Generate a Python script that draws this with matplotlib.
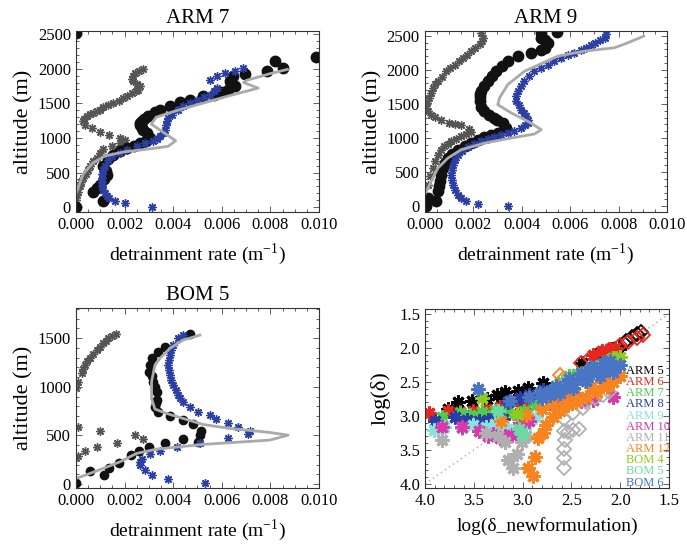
import numpy as np
import matplotlib
matplotlib.use("Agg")
import matplotlib.pyplot as plt
from matplotlib.ticker import MultipleLocator

plt.rcParams['font.family'] = ['Liberation Serif', 'DejaVu Serif']
plt.rcParams['mathtext.fontset'] = 'custom'
plt.rcParams['mathtext.rm'] = 'Liberation Serif'

# ---------------- ARM 7 ----------------
arm7_mod_x = [0.0000, 0.0003, 0.0007, 0.0012, 0.0020, 0.0030, 0.0038, 0.0041, 0.0036, 0.0031,
              0.0033, 0.0040, 0.0050, 0.0062, 0.0075, 0.0069, 0.0070, 0.0080, 0.0087]
arm7_mod_z = [200, 480, 640, 740, 800, 840, 880, 960, 1080, 1200,
              1300, 1380, 1480, 1600, 1720, 1800, 1830, 1930, 1990]
arm7_les_x = [0.0000, 0.0000, 0.00112, 0.00071, 0.00085, 0.00099, 0.00115, 0.00126, 0.00122, 0.00112,
              0.00130, 0.00154, 0.00180, 0.00209, 0.00240, 0.00263, 0.00290, 0.00305, 0.00291, 0.00275,
              0.00270, 0.00263, 0.00265, 0.00270, 0.00280, 0.00298, 0.00325, 0.00346, 0.00387, 0.00428,
              0.00469, 0.00524, 0.00566, 0.00600, 0.00627, 0.00654, 0.00640, 0.00634, 0.00648, 0.00695,
              0.00785, 0.00819, 0.00853, 0.00988]
arm7_les_z = [0, 2510, 82, 226, 280, 323, 400, 467, 520, 600,
              700, 756, 810, 853, 890, 925, 960, 997, 1069, 1110,
              1142, 1180, 1214, 1250, 1276, 1324, 1370, 1407, 1455, 1517,
              1551, 1599, 1623, 1660, 1696, 1744, 1780, 1816, 1888, 1927,
              1960, 2105, 2009, 2163]
arm7_new_x = [0.00311, 0.00202, 0.00160, 0.00135, 0.00126, 0.00118, 0.00112, 0.00108, 0.00106, 0.00106,
              0.00108, 0.00112, 0.00120, 0.00133, 0.00150, 0.00181, 0.00210, 0.00250, 0.00285, 0.00318,
              0.00335, 0.00346, 0.00358, 0.00366, 0.00370, 0.00373, 0.00380, 0.00394, 0.00420, 0.00442,
              0.00470, 0.00497, 0.00525, 0.00551, 0.00570, 0.00579, 0.00551, 0.00579, 0.00613, 0.00654,
              0.00689]
arm7_new_z = [0, 58, 96, 130, 154, 200, 250, 300, 360, 419,
              480, 530, 600, 684, 740, 780, 830, 877, 920, 958,
              990, 1021, 1070, 1118, 1180, 1238, 1290, 1334, 1400, 1455,
              1505, 1551, 1590, 1623, 1680, 1720, 1840, 1888, 1936, 1960,
              2009]
arm7_old_x = [0.00000, 0.00005, 0.00010, 0.00016, 0.00022, 0.00030, 0.00040, 0.00050, 0.00058, 0.00070,
              0.00085, 0.00100, 0.00112, 0.00147, 0.00181, 0.00200, 0.00137, 0.00181, 0.00099, 0.00064,
              0.00037, 0.00030, 0.00035, 0.00045, 0.00058, 0.00070, 0.00085, 0.00100, 0.00112, 0.00130,
              0.00154, 0.00175, 0.00195, 0.00212, 0.00229, 0.00245, 0.00257, 0.00263, 0.00250, 0.00236,
              0.00229, 0.00235, 0.00243, 0.00260, 0.00277]
arm7_old_z = [100, 170, 226, 300, 360, 419, 480, 540, 600, 660,
              708, 780, 843, 877, 925, 973, 1045, 997, 1084, 1142,
              1190, 1238, 1280, 1310, 1340, 1358, 1385, 1406, 1440, 1470,
              1503, 1540, 1575, 1610, 1647, 1680, 1696, 1744, 1780, 1816,
              1850, 1888, 1936, 1970, 1999]

# ---------------- ARM 9 ----------------
arm9_mod_x = [0.0000, 0.00027, 0.00055, 0.00096, 0.00151, 0.00247, 0.00357, 0.00453, 0.00481, 0.00426,
              0.00357, 0.00302, 0.00309, 0.00343, 0.00412, 0.00549, 0.00659, 0.00783, 0.00838, 0.00904]
arm9_mod_z = [167, 363, 559, 706, 828, 926, 1000, 1059, 1123, 1245,
              1368, 1490, 1588, 1784, 1980, 2201, 2275, 2324, 2397, 2495]
arm9_les_x = [0.00007, 0.00014, 0.00048, 0.00055, 0.00060, 0.00062, 0.00068, 0.00076, 0.00085, 0.00096,
              0.00115, 0.00137, 0.00165, 0.00192, 0.00220, 0.00247, 0.00275, 0.00302, 0.00337, 0.00323,
              0.00300, 0.00288, 0.00265, 0.00247, 0.00233, 0.00227, 0.00227, 0.00230, 0.00233, 0.00245,
              0.00261, 0.00280, 0.00295, 0.00320, 0.00343, 0.00385, 0.00440, 0.00480, 0.00495, 0.00508,
              0.00495, 0.00481, 0.00481, 0.00547]
arm9_les_z = [0, 118, 69, 216, 290, 363, 460, 559, 640, 706,
              770, 828, 880, 926, 970, 1010, 1040, 1074, 1147, 1220,
              1260, 1294, 1340, 1392, 1460, 1539, 1600, 1650, 1686, 1760,
              1833, 1910, 1980, 2050, 2127, 2201, 2250, 2290, 2324, 2397,
              2440, 2471, 2544, 2559]
arm9_new_x = [0.00343, 0.00220, 0.00172, 0.00150, 0.00137, 0.00125, 0.00117, 0.00112, 0.00110, 0.00112,
              0.00117, 0.00125, 0.00137, 0.00155, 0.00179, 0.00205, 0.00234, 0.00260, 0.00288, 0.00315,
              0.00343, 0.00370, 0.00398, 0.00415, 0.00426, 0.00425, 0.00419, 0.00410, 0.00398, 0.00388,
              0.00378, 0.00378, 0.00385, 0.00398, 0.00412, 0.00430, 0.00453, 0.00480, 0.00508, 0.00535,
              0.00563, 0.00590, 0.00618, 0.00645, 0.00666, 0.00685, 0.00701, 0.00722, 0.00742, 0.00749]
arm9_new_z = [0, 34, 83, 125, 167, 240, 314, 390, 461, 530,
              608, 680, 755, 810, 863, 910, 951, 980, 1010, 1040,
              1074, 1110, 1147, 1185, 1221, 1270, 1319, 1370, 1417, 1480,
              1539, 1610, 1686, 1760, 1833, 1910, 1980, 2030, 2078, 2130,
              2176, 2215, 2250, 2290, 2324, 2360, 2397, 2440, 2471, 2529]
arm9_old_x = [0.00000, 0.00005, 0.00014, 0.00024, 0.00034, 0.00045, 0.00055, 0.00068, 0.00082, 0.00096,
              0.00110, 0.00130, 0.00151, 0.00172, 0.00192, 0.00185, 0.00149, 0.00125, 0.00100, 0.00069,
              0.00045, 0.00027, 0.00015, 0.00007, 0.00012, 0.00020, 0.00027, 0.00034, 0.00045, 0.00055,
              0.00070, 0.00089, 0.00105, 0.00124, 0.00140, 0.00158, 0.00175, 0.00192, 0.00210, 0.00227,
              0.00237, 0.00240, 0.00233]
arm9_old_z = [60, 118, 314, 440, 559, 660, 755, 820, 877, 915,
              951, 990, 1025, 1060, 1088, 1132, 1191, 1206, 1220, 1270,
              1310, 1343, 1390, 1441, 1515, 1588, 1660, 1735, 1790, 1833,
              1900, 1980, 2030, 2078, 2130, 2176, 2225, 2275, 2320, 2373,
              2420, 2471, 2544]

# ---------------- BOM 5 ----------------
bom5_mod_x = [0.0000, 0.00058, 0.00112, 0.00181, 0.00249, 0.00332, 0.00523, 0.00797, 0.00873, 0.00797,
              0.00633, 0.00523, 0.00441, 0.00373, 0.00325, 0.00311, 0.00311, 0.00325, 0.00345, 0.00386,
              0.00441, 0.00510]
bom5_mod_z = [58, 110, 161, 229, 315, 360, 408, 452, 503, 531,
              572, 613, 675, 726, 771, 880, 1051, 1223, 1291, 1394,
              1480, 1531]
bom5_les_x = [0.0000, 0.00058, 0.00115, 0.00137, 0.00178, 0.00226, 0.00259, 0.00301, 0.00366, 0.00441,
              0.00503, 0.00510, 0.00516, 0.00482, 0.00441, 0.00386, 0.00338, 0.00325, 0.00330, 0.00334,
              0.00332, 0.00325, 0.00318, 0.00311, 0.00301, 0.00305, 0.00311, 0.00338, 0.00366, 0.00471]
bom5_les_z = [7, 137, 92, 168, 212, 298, 339, 384, 425, 459,
              428, 503, 545, 613, 658, 702, 743, 795, 830, 863,
              949, 1000, 1051, 1110, 1154, 1223, 1291, 1360, 1411, 1538]
bom5_new_x = [0.00530, 0.00379, 0.00311, 0.00284, 0.00263, 0.00265, 0.00270, 0.00304, 0.00345, 0.00414,
              0.00510, 0.00626, 0.00708, 0.00715, 0.00667, 0.00626, 0.00578, 0.00551, 0.00503, 0.00468,
              0.00441, 0.00430, 0.00421, 0.00410, 0.00400, 0.00392, 0.00386, 0.00382, 0.00379, 0.00381,
              0.00386, 0.00392, 0.00400, 0.00421, 0.00441]
bom5_new_z = [7, 51, 92, 144, 195, 230, 257, 305, 339, 384,
              418, 469, 510, 545, 589, 623, 668, 709, 743, 795,
              846, 880, 914, 965, 1017, 1070, 1120, 1170, 1223, 1275,
              1325, 1380, 1428, 1497, 1531]
bom5_old_x = [0.0000, 0.0001, 0.00023, 0.00030, 0.00037, 0.00047, 0.00058, 0.00070, 0.00085, 0.00100,
              0.00112, 0.00125, 0.00133, 0.00150, 0.00164,
              0.0001, 0.00099, 0.00242, 0.00277, 0.00170, 0.00085, 0.00037, 0.0001, 0.0000]
bom5_old_z = [983, 1051, 1137, 1180, 1223, 1260, 1291, 1335, 1377, 1410,
              1445, 1475, 1497, 1520, 1538,
              589, 545, 503, 462, 425, 384, 342, 291, 264]

# ---------------- log-log scatter ----------------
cases = ['ARM 5', 'ARM 6', 'ARM 7', 'ARM 8', 'ARM 9', 'ARM 10',
         'ARM 11', 'ARM 12', 'BOM 4', 'BOM 5', 'BOM 6']
case_colors = ['#000000', '#e8281e', '#4fcc4f', '#2a3fa5', '#86e3e0', '#d63aad',
               '#b0b0b0', '#f7841f', '#8dcc1c', '#6cdba3', '#4a74c4']

star_x = {
    'ARM 5': [3.76, 3.66, 3.52, 3.36, 3.26, 3.18, 3.05, 2.94, 2.79, 2.39, 2.21, 2.08, 2.01],
    'ARM 6': [3.96, 3.76, 3.64, 3.51, 3.37, 3.23, 3.15, 3.03, 2.93, 2.28, 2.19, 2.10, 2.05],
    'ARM 7': [3.83, 3.64, 3.54, 3.42, 3.28, 3.16, 3.06, 2.99, 2.86, 2.69, 2.60, 2.52, 2.44,
              2.35, 2.25, 2.14, 2.04],
    'ARM 8': [3.90, 3.69, 3.57, 3.45, 3.35, 3.28, 3.20, 3.15, 3.03, 2.93, 2.79],
    'ARM 9': [3.91, 3.80, 3.62, 3.51, 3.37, 3.28, 3.16, 3.06, 2.96, 2.86, 3.22],
    'ARM 10': [3.83, 3.62, 3.45, 3.35, 3.23, 3.11, 3.03, 2.93, 2.69, 2.52, 2.28, 2.07,
               3.30, 3.18, 2.60, 2.40],
    'ARM 11': [3.83, 3.37, 3.18, 3.15, 3.10, 3.06, 3.01, 2.96, 3.25],
    'ARM 12': [3.22, 2.96, 2.87, 2.94, 2.89, 2.84, 2.79, 2.76, 2.69, 2.62, 2.53, 2.45,
               2.35, 2.24, 2.14, 2.07, 2.00, 2.80, 2.70, 2.58, 2.46, 2.30, 2.18],
    'BOM 4': [3.42, 3.06, 2.14, 2.07, 2.00],
    'BOM 5': [3.25, 3.04, 3.01, 2.55, 2.41, 2.28, 2.14],
    'BOM 6': [3.46, 3.13, 2.93, 2.82, 2.72, 2.62, 2.55, 2.48, 2.41, 2.35, 2.28, 2.21, 2.14,
              2.07, 2.00, 2.48, 2.35, 2.21, 2.07, 2.62, 2.72, 2.80, 2.66, 2.52, 2.40,
              2.30, 2.18, 2.10],
}
star_y = {
    'ARM 5': [2.90, 2.79, 2.78, 2.75, 2.69, 2.65, 2.63, 2.59, 2.51, 2.22, 2.07, 2.02, 2.01],
    'ARM 6': [2.96, 2.93, 2.94, 2.93, 2.90, 2.87, 2.79, 2.84, 2.79, 2.10, 2.05, 2.02, 2.00],
    'ARM 7': [3.01, 2.96, 2.99, 2.94, 2.93, 2.95, 2.99, 2.93, 2.84, 2.64, 2.50, 2.42, 2.38,
              2.35, 2.28, 2.20, 2.15],
    'ARM 8': [3.08, 3.02, 3.06, 3.07, 3.06, 3.04, 3.05, 2.79, 2.74, 2.69, 2.62],
    'ARM 9': [3.21, 3.16, 3.18, 3.14, 3.16, 3.12, 3.19, 3.23, 3.13, 3.01, 3.24],
    'ARM 10': [3.16, 3.17, 3.22, 3.29, 3.32, 3.28, 3.11, 3.08, 2.84, 2.79, 2.76, 2.72,
               3.26, 3.30, 2.82, 2.78],
    'ARM 11': [3.35, 3.25, 3.38, 3.65, 3.77, 3.56, 3.39, 3.30, 3.30],
    'ARM 12': [3.08, 2.99, 3.60, 3.77, 3.89, 3.33, 3.25, 3.13, 3.01, 2.93, 2.84, 2.79,
               2.72, 2.65, 2.57, 2.50, 2.42, 2.90, 2.82, 2.74, 2.66, 2.58, 2.50],
    'BOM 4': [2.74, 2.97, 2.23, 2.15, 2.13],
    'BOM 5': [2.93, 3.19, 3.27, 2.47, 2.40, 2.32, 2.25],
    'BOM 6': [2.60, 2.78, 2.72, 2.67, 2.64, 2.59, 2.54, 2.49, 2.45, 2.40, 2.35, 2.32, 2.30,
              2.27, 2.25, 2.59, 2.49, 2.42, 2.35, 2.66, 2.70, 2.74, 2.56, 2.46, 2.37,
              2.28, 2.22, 2.20],
}
diam_x = {
    'ARM 5': [1.94, 1.88, 1.83, 1.79],
    'ARM 6': [1.77, 1.83, 1.92, 2.00, 2.11, 2.21, 2.31, 2.40],
    'ARM 11': [2.58, 2.58, 2.58, 2.57, 2.58, 2.53, 2.48, 2.42, 2.58, 2.48, 2.38, 2.35,
               2.26, 2.18, 2.11],
    'ARM 12': [2.62, 2.60],
}
diam_y = {
    'ARM 5': [1.90, 1.84, 1.79, 1.76],
    'ARM 6': [1.81, 1.86, 1.91, 1.96, 2.03, 2.09, 2.15, 2.23],
    'ARM 11': [3.76, 3.62, 3.48, 3.35, 3.22, 3.23, 3.21, 3.19, 3.04, 2.96, 2.89, 2.79,
               2.74, 2.69, 2.65],
    'ARM 12': [2.40, 2.47],
}

fig = plt.figure(figsize=(6.87, 5.44), dpi=100)

les_c = '#111111'
new_c = '#2c3fa3'
old_c = '#555555'
mod_c = '#aaaaaa'


def style_ax(ax):
    ax.tick_params(which='both', direction='in', top=True, right=True, labelsize=12,
                   width=0.6, color='#444444')
    ax.tick_params(which='major', length=4)
    ax.tick_params(which='minor', length=2)
    for s in ax.spines.values():
        s.set_linewidth(0.8)
        s.set_color('#333333')


def profile_panel(rect, title, mod, les, new, old, ylim, les_ms):
    ax = fig.add_axes(rect)
    ax.plot(old[0], old[1], ls='none', marker=(8, 2, 0), ms=6, mec=old_c, mew=1.0)
    ax.plot(les[0], les[1], ls='none', marker='o', ms=les_ms, mfc=les_c, mec=les_c)
    ax.plot(new[0], new[1], ls='none', marker=(8, 2, 0), ms=6, mec=new_c, mew=1.0)
    ax.plot(mod[0], mod[1], color=mod_c, lw=2)
    ax.set_xlim(0, 0.010)
    ax.set_ylim(*ylim)
    ax.set_xticks([0, 0.002, 0.004, 0.006, 0.008, 0.010])
    ax.set_xticklabels(['0.000', '0.002', '0.004', '0.006', '0.008', '0.010'])
    ax.xaxis.set_minor_locator(MultipleLocator(0.0005))
    ax.yaxis.set_major_locator(MultipleLocator(500))
    ax.yaxis.set_minor_locator(MultipleLocator(100))
    ax.set_title(title, fontsize=15, pad=6)
    ax.set_xlabel('detrainment rate (m$^{\\mathregular{-1}}$)', fontsize=14, labelpad=6)
    ax.set_ylabel('altitude (m)', fontsize=16, labelpad=3)
    style_ax(ax)
    return ax


profile_panel([0.1106, 0.6103, 0.3537, 0.3327], 'ARM 7',
              (arm7_mod_x, arm7_mod_z), (arm7_les_x, arm7_les_z),
              (arm7_new_x, arm7_new_z), (arm7_old_x, arm7_old_z), (-70, 2545), 7.5)
profile_panel([0.618, 0.6103, 0.353, 0.3327], 'ARM 9',
              (arm9_mod_x, arm9_mod_z), (arm9_les_x, arm9_les_z),
              (arm9_new_x, arm9_new_z), (arm9_old_x, arm9_old_z), (-85, 2570), 7.5)
profile_panel([0.1106, 0.1029, 0.3537, 0.331], 'BOM 5',
              (bom5_mod_x, bom5_mod_z), (bom5_les_x, bom5_les_z),
              (bom5_new_x, bom5_new_z), (bom5_old_x, bom5_old_z), (-40, 1810), 6)

# scatter panel
ax = fig.add_axes([0.6186, 0.1029, 0.3552, 0.329])
ax.plot([4.0, 1.5], [4.0, 1.5], ls=(0, (1, 2.5)), color='#aaaaaa', lw=1)
for name, col in zip(cases, case_colors):
    if name in diam_x:
        ax.plot(diam_x[name], diam_y[name], ls='none', marker='D', ms=7, mfc='none',
                mec=col, mew=1.3)
    ax.plot(star_x[name], star_y[name], ls='none', marker=(8, 2, 0), ms=10, mec=col, mew=2.2)
ax.set_xlim(4.0, 1.5)
ax.set_ylim(4.06, 1.43)
ax.set_xticks([4.0, 3.5, 3.0, 2.5, 2.0, 1.5])
ax.set_yticks([1.5, 2.0, 2.5, 3.0, 3.5, 4.0])
ax.xaxis.set_minor_locator(MultipleLocator(0.1))
ax.yaxis.set_minor_locator(MultipleLocator(0.1))
ax.xaxis.set_major_formatter(plt.FormatStrFormatter('%.1f'))
ax.yaxis.set_major_formatter(plt.FormatStrFormatter('%.1f'))
ax.set_xlabel('log(δ_newformulation)', fontsize=14, labelpad=6)
ax.set_ylabel('log(δ)', fontsize=16, labelpad=6)
style_ax(ax)
for i, (name, col) in enumerate(zip(cases, case_colors)):
    ax.text(0.825, 0.655 - i * 0.0625, name, color=col, fontsize=9,
            transform=ax.transAxes, va='center', ha='left')

fig.savefig('out.png', dpi=100)
